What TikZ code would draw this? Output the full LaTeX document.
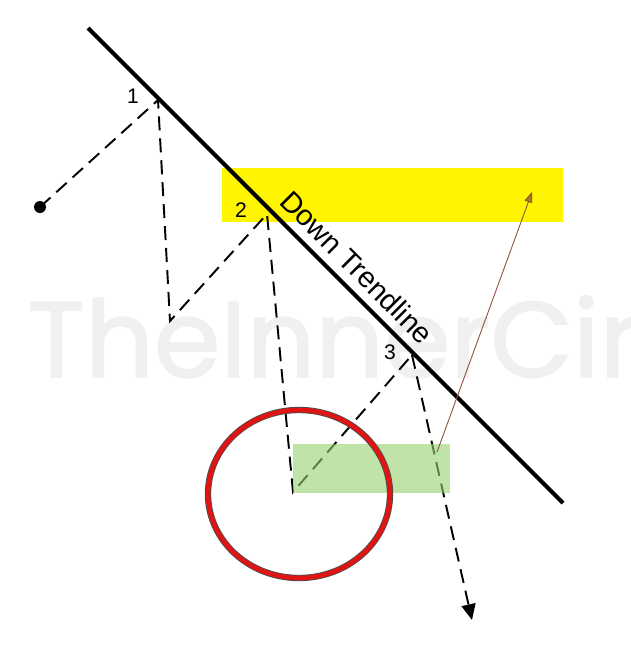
\documentclass[tikz,border=0pt]{standalone}
\usepackage{fontspec}
\setmainfont{Liberation Sans}
\newfontfamily\markfont[FakeBold=1.6]{Poppins}
\usepackage{xcolor}
\usetikzlibrary{arrows.meta, positioning, calc}

\definecolor{zoneyellow}{RGB}{255,245,0}
\definecolor{zonegreen}{RGB}{150,210,110}
\definecolor{ringred}{RGB}{225,20,20}
\definecolor{pathbrown}{RGB}{140,80,60}
\definecolor{tipbrown}{RGB}{170,120,30}
\definecolor{markgray}{RGB}{240,240,240}

\begin{document}
\begin{tikzpicture}[
    x=0.02cm, y=-0.02cm,
    swing/.style={draw, line width=1.1pt, dash pattern=on 8pt off 4.5pt},
    trend/.style={draw, line width=2.4pt},
    pivot/.style={font=\fontsize{12}{12}\selectfont, inner sep=1pt},
    ring/.style={line width=2.6pt, draw=ringred}
]
\useasboundingbox (0,0) rectangle (630,670);

% Watermark
\node[anchor=base west, inner sep=0pt, text=markgray, font=\markfont\fontsize{61}{61}\selectfont] (mark) at (27,377) {TheInnerCircle};

% Price zones
\fill[zoneyellow] (222,168) rectangle (563,222);

% Swing points
\coordinate (start) at (40,207);
\coordinate (top1) at (158,100);
\coordinate (low1) at (170,321);
\coordinate (top2) at (267,214);
\coordinate (low2) at (293,492);
\coordinate (top3) at (412,355);
\coordinate (tip) at (472,620);

% Trendline
\coordinate (trendA) at (88,28);
\coordinate (trendB) at (563,503);
\draw[trend] (trendA) -- node[pos=0.535, sloped, above=1.5pt, font=\fontsize{16.5}{16.5}\selectfont] (trendlabel) {Down Trendline} (trendB);

% Price path
\fill (start) circle (6);
\draw[swing] (start) -- (top1) -- (low1) -- (top2) -- (low2) -- (top3);
\draw[swing, -{Triangle[length=9pt, width=8pt]}] (top3) -- (tip);

\fill[zonegreen, fill opacity=0.6] (293,444) rectangle (450,493);

% Pivot labels
\node[pivot] (p1) at (133,96) {1};
\node[pivot] (p2) at (241,210) {2};
\node[pivot] (p3) at (390,352) {3};

% Projection
\coordinate (proj) at (437,452);
\coordinate (target) at (532,192);
\draw[pathbrown, line width=0.5pt, -{Triangle[length=6pt, width=4.5pt, fill=tipbrown]}] (proj) -- (target);

% Highlight ring
\draw[line width=3.6pt, black!70] (299,494) ellipse (91 and 84);
\draw[ring] (299,494) ellipse (91 and 84);

\end{tikzpicture}
\end{document}
